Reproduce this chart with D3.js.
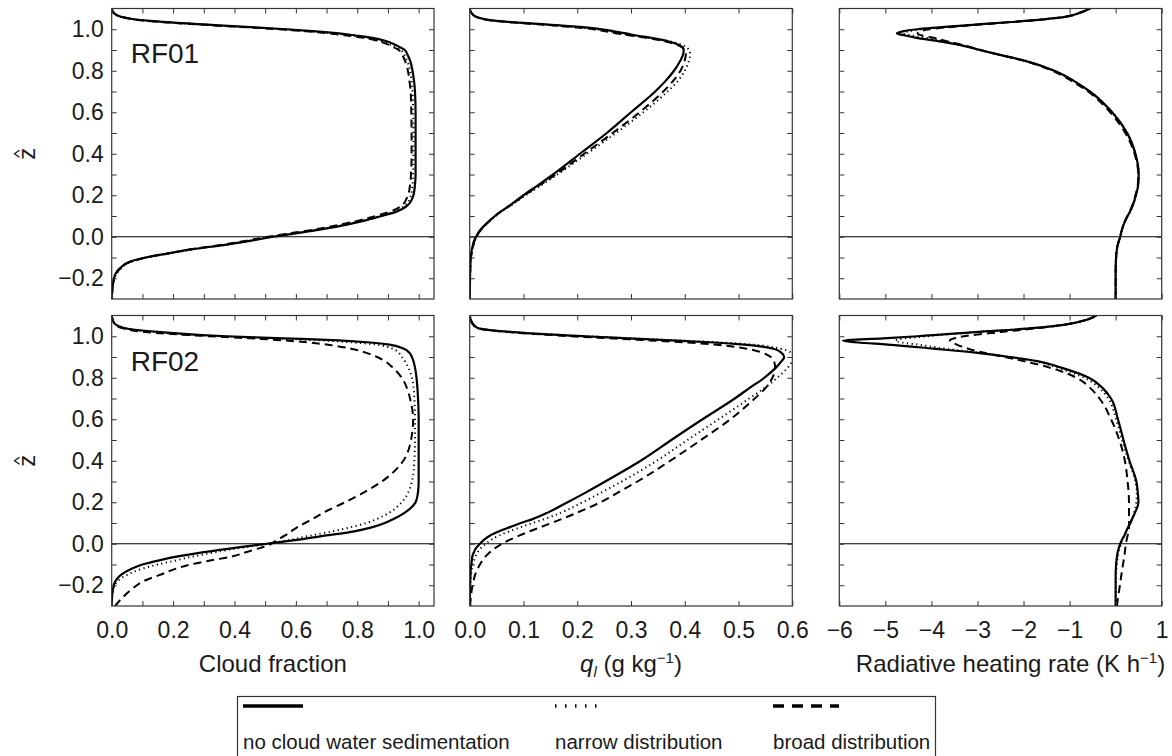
<!DOCTYPE html>
<html>
<head>
<meta charset="utf-8">
<script src="https://cdn.jsdelivr.net/npm/d3@7"></script>
<style>
  body { margin: 0; background: #fff; }
  svg { display: block; }
  text { font-family: "Liberation Sans", Arial, Helvetica, sans-serif; fill: #1a1a1a; }
</style>
</head>
<body>
<svg id="chart" width="1172" height="756"></svg>
<script>
// Normalised height levels shared by every profile
const zLevels = [-0.30,-0.26,-0.22,-0.18,-0.15,-0.12,-0.10,-0.08,-0.06,-0.04,-0.02,
  0.00,0.02,0.04,0.06,0.08,0.10,0.12,0.15,
  0.20,0.25,0.30,0.40,0.50,0.60,0.70,
  0.75,0.80,0.85,0.88,0.90,0.92,0.94,0.96,
  0.97,0.98,0.99,1.00,1.02,1.04,1.06,1.08,1.10];

// Cloud fraction profiles
const cfRF01None = [0,0.002,0.005,0.012,0.028,0.06,0.11,0.185,0.265,0.365,0.45,
  0.525,0.615,0.70,0.77,0.83,0.88,0.925,0.963,
  0.983,0.988,0.99,0.99,0.99,0.99,0.988,
  0.985,0.98,0.972,0.963,0.955,0.93,0.90,0.845,
  0.795,0.74,0.665,0.57,0.336,0.125,0.03,0.006,0];
const cfRF01Narrow = [0,0.002,0.006,0.015,0.032,0.065,0.115,0.19,0.27,0.365,0.445,
  0.52,0.61,0.695,0.765,0.825,0.875,0.918,0.955,
  0.975,0.98,0.982,0.983,0.983,0.982,0.98,
  0.977,0.972,0.962,0.952,0.942,0.917,0.885,0.83,
  0.78,0.725,0.65,0.555,0.325,0.12,0.03,0.006,0];
const cfRF01Broad = [0,0.002,0.005,0.013,0.03,0.062,0.112,0.185,0.26,0.355,0.435,
  0.51,0.595,0.68,0.75,0.81,0.86,0.905,0.945,
  0.965,0.972,0.975,0.977,0.977,0.976,0.974,
  0.97,0.965,0.955,0.945,0.935,0.91,0.875,0.815,
  0.765,0.71,0.635,0.545,0.315,0.115,0.03,0.006,0];
const cfRF02None = [0,0.001,0.004,0.012,0.03,0.065,0.10,0.155,0.22,0.30,0.40,
  0.505,0.61,0.70,0.79,0.85,0.89,0.92,0.955,
  0.99,0.998,1.0,1.0,1.0,1.0,0.998,
  0.996,0.993,0.988,0.983,0.978,0.97,0.952,0.905,
  0.843,0.74,0.56,0.375,0.16,0.04,0.01,0.003,0];
const cfRF02Narrow = [0,0.001,0.005,0.02,0.05,0.10,0.15,0.21,0.27,0.34,0.42,
  0.51,0.585,0.65,0.72,0.78,0.83,0.865,0.905,
  0.945,0.967,0.978,0.986,0.988,0.988,0.986,
  0.984,0.978,0.966,0.955,0.945,0.935,0.915,0.86,
  0.79,0.68,0.52,0.35,0.14,0.04,0.012,0.004,0];
const cfRF02Broad = [0.011,0.035,0.065,0.104,0.157,0.21,0.257,0.325,0.395,0.44,0.485,
  0.52,0.54,0.565,0.585,0.605,0.63,0.655,0.69,
  0.76,0.825,0.88,0.95,0.975,0.982,0.972,
  0.962,0.945,0.915,0.89,0.865,0.83,0.78,0.70,
  0.64,0.56,0.45,0.32,0.11,0.033,0.01,0.003,0];

// Liquid water mixing ratio profiles (g/kg)
const qlRF01None = [0,0.0003,0.0005,0.0007,0.001,0.0015,0.002,0.003,0.004,0.006,0.008,
  0.012,0.016,0.022,0.03,0.038,0.047,0.057,0.074,
  0.10,0.128,0.155,0.205,0.255,0.30,0.345,
  0.364,0.38,0.392,0.397,0.398,0.392,0.372,0.335,
  0.31,0.29,0.268,0.245,0.16,0.05,0.012,0.003,0];
const qlRF01Narrow = [0,0.0003,0.0005,0.0008,0.0012,0.0018,0.0025,0.0035,0.005,0.007,0.009,
  0.013,0.017,0.023,0.031,0.039,0.048,0.058,0.076,
  0.104,0.134,0.163,0.218,0.272,0.323,0.368,
  0.387,0.40,0.408,0.41,0.408,0.398,0.375,0.332,
  0.305,0.28,0.258,0.235,0.15,0.048,0.012,0.003,0];
const qlRF01Broad = [0,0.0003,0.0005,0.0008,0.0012,0.0018,0.0025,0.0035,0.005,0.007,0.009,
  0.013,0.017,0.023,0.03,0.038,0.047,0.057,0.075,
  0.102,0.131,0.16,0.213,0.266,0.316,0.36,
  0.378,0.392,0.40,0.402,0.40,0.39,0.366,0.325,
  0.298,0.274,0.252,0.23,0.148,0.048,0.012,0.003,0];
const qlRF02None = [0,0.0002,0.0005,0.001,0.0015,0.002,0.003,0.004,0.005,0.008,0.012,
  0.019,0.027,0.038,0.055,0.075,0.095,0.118,0.145,
  0.182,0.218,0.252,0.318,0.375,0.433,0.493,
  0.52,0.548,0.57,0.58,0.585,0.58,0.565,0.51,
  0.455,0.375,0.295,0.215,0.08,0.015,0.006,0.002,0];
const qlRF02Narrow = [0,0.0003,0.0008,0.0015,0.0025,0.004,0.006,0.008,0.011,0.015,0.021,
  0.03,0.041,0.055,0.074,0.095,0.117,0.14,0.17,
  0.21,0.247,0.283,0.348,0.405,0.463,0.52,
  0.548,0.572,0.592,0.60,0.603,0.598,0.578,0.525,
  0.47,0.385,0.30,0.215,0.08,0.015,0.006,0.002,0];
const qlRF02Broad = [0.001,0.002,0.004,0.007,0.01,0.015,0.019,0.024,0.03,0.038,0.048,
  0.06,0.075,0.093,0.112,0.132,0.152,0.172,0.20,
  0.243,0.278,0.312,0.373,0.43,0.485,0.53,
  0.55,0.563,0.568,0.566,0.56,0.545,0.515,0.455,
  0.405,0.335,0.26,0.19,0.072,0.014,0.005,0.002,0];

// Radiative heating rate profiles (K/h)
const rhRF01None = [0,0,0,0,0.002,0.005,0.01,0.016,0.028,0.045,0.07,
  0.10,0.12,0.145,0.175,0.215,0.26,0.31,0.37,
  0.44,0.49,0.50,0.43,0.25,-0.075,-0.56,
  -0.9,-1.33,-2.0,-2.58,-2.95,-3.3,-3.78,-4.35,
  -4.57,-4.75,-4.62,-4.3,-3.2,-1.97,-1.1,-0.77,-0.55];
const rhRF01Narrow = [0,0,0,0,0.002,0.005,0.01,0.016,0.028,0.045,0.07,
  0.10,0.12,0.145,0.175,0.215,0.26,0.31,0.37,
  0.44,0.49,0.50,0.43,0.25,-0.075,-0.56,
  -0.9,-1.33,-2.0,-2.58,-2.95,-3.28,-3.7,-4.15,
  -4.42,-4.6,-4.5,-4.2,-3.15,-1.97,-1.1,-0.77,-0.55];
const rhRF01Broad = [0,0,0,0,0.002,0.005,0.01,0.016,0.028,0.045,0.07,
  0.10,0.12,0.145,0.175,0.21,0.255,0.30,0.36,
  0.43,0.48,0.49,0.41,0.21,-0.12,-0.6,
  -0.95,-1.37,-2.02,-2.58,-2.93,-3.25,-3.62,-3.98,
  -4.2,-4.3,-4.25,-4.05,-3.1,-1.95,-1.1,-0.77,-0.55];
const rhRF02None = [0,0,0,0,0,0.005,0.01,0.018,0.03,0.045,0.07,
  0.10,0.14,0.19,0.23,0.27,0.32,0.36,0.42,
  0.495,0.48,0.45,0.30,0.17,0.05,-0.10,
  -0.28,-0.58,-1.2,-1.7,-2.3,-3.0,-3.95,-4.95,
  -5.6,-5.92,-5.05,-4.3,-3.05,-1.75,-1.0,-0.62,-0.42];
const rhRF02Narrow = [0,0,0.002,0.005,0.01,0.015,0.025,0.035,0.05,0.065,0.09,
  0.12,0.15,0.19,0.23,0.27,0.31,0.35,0.40,
  0.45,0.46,0.43,0.28,0.14,0.01,-0.16,
  -0.35,-0.68,-1.28,-1.75,-2.32,-2.95,-3.7,-4.3,
  -4.65,-4.78,-4.55,-4.1,-3.05,-1.75,-1.0,-0.62,-0.42];
const rhRF02Broad = [0.03,0.05,0.08,0.105,0.125,0.145,0.16,0.175,0.19,0.2,0.21,
  0.22,0.24,0.26,0.28,0.29,0.29,0.29,0.29,
  0.29,0.28,0.26,0.2,0.08,-0.1,-0.35,
  -0.55,-0.85,-1.45,-2.0,-2.4,-2.85,-3.2,-3.45,
  -3.55,-3.6,-3.5,-3.3,-2.5,-1.65,-1.0,-0.62,-0.42];

const caseNames = ["RF01", "RF02"];
const seriesNames = ["no cloud water sedimentation", "narrow distribution", "broad distribution"];
const zTicks = d3.range(-2, 11).map(i => i / 10);
const cfTicks = d3.range(0, 11).map(i => i / 10);
const qlTicks = d3.range(0, 7).map(i => i / 10);
const rhTicks = d3.range(-6, 2);

// profiles[row][column] -> [none, narrow, broad]
const profiles = [
  [[cfRF01None, cfRF01Narrow, cfRF01Broad], [qlRF01None, qlRF01Narrow, qlRF01Broad], [rhRF01None, rhRF01Narrow, rhRF01Broad]],
  [[cfRF02None, cfRF02Narrow, cfRF02Broad], [qlRF02None, qlRF02Narrow, qlRF02Broad], [rhRF02None, rhRF02Narrow, rhRF02Broad]]
];

// ---- layout ----
const rowBoxes = [{ top: 8.5, bottom: 299 }, { top: 315.5, bottom: 606 }];
const colBoxes = [
  { left: 111.7, right: 434, domain: [0, 1.05], ticks: cfTicks, labelled: d => Math.round(d * 10) % 2 === 0, fmt: d3.format(".1f") },
  { left: 469.7, right: 792.3, domain: [0, 0.6], ticks: qlTicks, labelled: () => true, fmt: d3.format(".1f") },
  { left: 839.3, right: 1161.7, domain: [-6, 1], ticks: rhTicks, labelled: () => true, fmt: d3.format("d") }
];
const lineStyles = [
  { width: 2.2, dash: null },
  { width: 2.0, dash: "1.2 3.4" },
  { width: 2.0, dash: "8 5" }
];
const ink = "#1a1a1a";
const fontFamily = '"Liberation Sans", Arial, Helvetica, sans-serif';

const svg = d3.select("#chart");

function styleAxis(g) {
  g.select(".domain").remove();
  g.attr("font-family", fontFamily).attr("font-size", 23);
  g.selectAll(".tick line").attr("stroke", "#333").attr("stroke-width", 1);
  g.selectAll(".tick text").attr("fill", ink);
}

rowBoxes.forEach((rb, r) => {
  colBoxes.forEach((cb, c) => {
    const x = d3.scaleLinear().domain(cb.domain).range([cb.left, cb.right]);
    const y = d3.scaleLinear().domain([-0.3, 1.1]).range([rb.bottom, rb.top]);
    const g = svg.append("g");
    const clipId = `clip-${r}-${c}`;
    svg.append("clipPath").attr("id", clipId)
      .append("rect")
      .attr("x", cb.left).attr("y", rb.top)
      .attr("width", cb.right - cb.left).attr("height", rb.bottom - rb.top);

    // reference line at cloud base
    g.append("line")
      .attr("x1", cb.left).attr("x2", cb.right)
      .attr("y1", y(0)).attr("y2", y(0))
      .attr("stroke", "#000").attr("stroke-width", 1);

    const line = d3.line()
      .x(d => x(d[0]))
      .y(d => y(d[1]))
      .curve(d3.curveMonotoneY);

    const curves = g.append("g").attr("clip-path", `url(#${clipId})`);
    profiles[r][c].forEach((vals, s) => {
      const pts = vals.map((v, i) => [v, zLevels[i]]);
      curves.append("path")
        .attr("d", line(pts))
        .attr("fill", "none")
        .attr("stroke", "#000")
        .attr("stroke-width", lineStyles[s].width)
        .attr("stroke-dasharray", lineStyles[s].dash)
        .attr("stroke-linejoin", "round");
    });

    // frame
    g.append("rect")
      .attr("x", cb.left).attr("y", rb.top)
      .attr("width", cb.right - cb.left).attr("height", rb.bottom - rb.top)
      .attr("fill", "none").attr("stroke", "#333").attr("stroke-width", 1.2);

    // inward ticks on all four sides
    g.append("g").attr("transform", `translate(0,${rb.bottom})`)
      .call(d3.axisBottom(x).tickValues(cb.ticks).tickSize(-5).tickPadding(16)
        .tickFormat(d => (r === 1 && cb.labelled(d)) ? cb.fmt(d) : ""))
      .call(styleAxis);
    g.append("g").attr("transform", `translate(0,${rb.top})`)
      .call(d3.axisTop(x).tickValues(cb.ticks).tickSize(-5).tickFormat(""))
      .call(styleAxis);
    g.append("g").attr("transform", `translate(${cb.left},0)`)
      .call(d3.axisLeft(y).tickValues(zTicks).tickSize(-5).tickPadding(8)
        .tickFormat(d => (c === 0 && Math.round(d * 10) % 2 === 0) ? d3.format(".1f")(d) : ""))
      .call(styleAxis);
    g.append("g").attr("transform", `translate(${cb.right},0)`)
      .call(d3.axisRight(y).tickValues(zTicks).tickSize(-5).tickFormat(""))
      .call(styleAxis);

    // case label and vertical axis label on the first column
    if (c === 0) {
      g.append("text")
        .attr("x", cb.left + 19).attr("y", rb.top + (r === 0 ? 54 : 55))
        .attr("font-size", 28).text(caseNames[r]);
      const mid = (rb.top + rb.bottom) / 2;
      const zl = g.append("g").attr("transform", `translate(35,${mid}) rotate(-90)`);
      zl.append("text").attr("text-anchor", "middle").attr("font-size", 24).text("z");
      zl.append("path")
        .attr("d", "M-3.5,-15.5 L0,-20.5 L3.5,-15.5")
        .attr("fill", "none").attr("stroke", ink).attr("stroke-width", 1.3);
    }
  });
});

// horizontal axis titles
const titleY = 672;
svg.append("text")
  .attr("x", (colBoxes[0].left + colBoxes[0].right) / 2).attr("y", titleY)
  .attr("text-anchor", "middle").attr("font-size", 24).text("Cloud fraction");

const qlTitle = svg.append("text")
  .attr("x", (colBoxes[1].left + colBoxes[1].right) / 2).attr("y", titleY)
  .attr("text-anchor", "middle").attr("font-size", 24);
qlTitle.append("tspan").attr("font-style", "italic").text("q");
qlTitle.append("tspan").attr("font-style", "italic").attr("font-size", 15).attr("dy", 5).text("l");
qlTitle.append("tspan").attr("dy", -5).text(" (g kg");
qlTitle.append("tspan").attr("font-size", 15).attr("dy", -9).text("\u22121");
qlTitle.append("tspan").attr("dy", 9).text(")");

const rhTitle = svg.append("text")
  .attr("x", (colBoxes[2].left + colBoxes[2].right) / 2 + 10).attr("y", titleY)
  .attr("text-anchor", "middle").attr("font-size", 24);
rhTitle.append("tspan").text("Radiative heating rate (K h");
rhTitle.append("tspan").attr("font-size", 15).attr("dy", -9).text("\u22121");
rhTitle.append("tspan").attr("dy", 9).text(")");

// legend
const legend = svg.append("g");
legend.append("rect")
  .attr("x", 237.5).attr("y", 696.5).attr("width", 698).attr("height", 80)
  .attr("fill", "#fff").attr("stroke", "#333").attr("stroke-width", 1.2);
const legendX = [243, 555, 773];
const legendSampleLen = [60, 50, 66];
const legendDash = [null, "1.5 8.5", "11 8"];
seriesNames.forEach((name, s) => {
  legend.append("line")
    .attr("x1", legendX[s]).attr("x2", legendX[s] + legendSampleLen[s])
    .attr("y1", 706).attr("y2", 706)
    .attr("stroke", "#000").attr("stroke-width", 3.5)
    .attr("stroke-dasharray", legendDash[s]);
  legend.append("text")
    .attr("x", legendX[s]).attr("y", 749)
    .attr("font-size", 20.5)
    .text(name);
});
</script>
</body>
</html>
